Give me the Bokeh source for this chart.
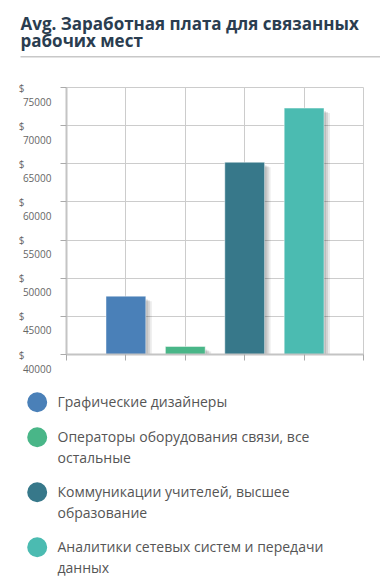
from bokeh.plotting import figure
from bokeh.models import Range1d, FixedTicker, ColumnDataSource, LinearAxis
from bokeh.core.properties import value
from bokeh.embed import file_html
from bokeh.resources import INLINE

# ---- data ----
title_text = "Avg. Заработная плата для связанных\nрабочих мест"
categories = [
    "Графические дизайнеры",
    "Операторы оборудования связи, все\nостальные",
    "Коммуникации учителей, высшее\nобразование",
    "Аналитики сетевых систем и передачи\nданных",
]
salaries = [47650, 41050, 65200, 72300]
colors = ["#4a80b8", "#49b688", "#37788a", "#4bbbb1"]
y_ticks = [40000, 45000, 50000, 55000, 60000, 65000, 70000, 75000]
y_tick_numbers = [str(v) for v in y_ticks]
y_tick_prefix = ["$"] * len(y_ticks)

FONT = "Open Sans"
W = 380

# ---- title figure ----
TH = 60
pt = figure(width=W, height=TH, x_range=Range1d(0, W), y_range=Range1d(TH, 0),
            output_backend="svg", toolbar_location=None,
            x_axis_location=None, y_axis_location=None, min_border=0)
pt.grid.visible = False
pt.outline_line_color = None
pt.text(x=[20], y=[11.5], text=[title_text], text_font=value(FONT), text_font_size="17px",
        text_font_style="bold", text_color="#2a3d50", text_baseline="top", text_align="left",
        text_line_height=0.73)
pt.line(x=[20, W], y=[56.2, 56.2], line_color="#c8c8c8", line_width=1.6)

# ---- chart figure ----
n = len(salaries)
xs = [i + 1 for i in range(n)]
p = figure(width=W, height=318, x_range=Range1d(0, n + 1), y_range=Range1d(y_ticks[0], y_ticks[-1]),
           output_backend="svg", toolbar_location=None,
           min_border_left=66, min_border_right=17, min_border_top=27, min_border_bottom=24)
p.outline_line_color = "#cccccc"
p.xaxis.ticker = FixedTicker(ticks=list(range(0, n + 2)))
p.yaxis.ticker = FixedTicker(ticks=y_ticks)
p.xaxis.major_label_overrides = {i: "" for i in range(0, n + 2)}
p.yaxis.major_label_overrides = {v: "\n\n" + t for v, t in zip(y_ticks, y_tick_numbers)}
for ax in (p.xaxis, p.yaxis):
    ax.axis_line_color = "#c4c4c4"
    ax.axis_line_width = 2
    ax.major_tick_line_color = "#aaaaaa"
    ax.major_tick_in = 0
    ax.major_tick_out = 6
    ax.minor_tick_line_color = None
p.xaxis.major_label_standoff = 0
p.yaxis.major_label_standoff = 9
label_style = dict(major_label_text_font=FONT, major_label_text_font_size="10px",
                   major_label_text_color="#666666", major_label_text_line_height=1.0)
for k, v in label_style.items():
    setattr(p.yaxis[0], k, v)

ax_d = LinearAxis(ticker=FixedTicker(ticks=y_ticks),
                  major_label_overrides=dict(zip(y_ticks, y_tick_prefix)),
                  axis_line_color=None, major_tick_line_color=None, minor_tick_line_color=None,
                  major_tick_in=0, major_tick_out=0, minor_tick_in=0, minor_tick_out=0,
                  major_label_standoff=-5, **label_style)
p.add_layout(ax_d, "left")

p.xgrid.ticker = FixedTicker(ticks=list(range(0, n + 2)))
p.ygrid.ticker = FixedTicker(ticks=y_ticks)
p.grid.grid_line_color = "#cccccc"
p.grid.grid_line_width = 1

px_x = (n + 1) / 297.0
px_y = (y_ticks[-1] - y_ticks[0]) / 267.0
bw = 0.67
for dx, dy, a in [(2, 3, 0.10), (4, 4, 0.10), (6, 5, 0.08)]:
    p.vbar(x=[x + dx * px_x for x in xs], top=[s - dy * px_y for s in salaries],
           bottom=y_ticks[0], width=bw, fill_color="#000000", fill_alpha=a, line_color=None)
p.vbar(x=xs, top=salaries, bottom=y_ticks[0], width=bw, fill_color=colors,
       line_color="#ffffff", line_alpha=0.45, line_width=1)

# ---- legend figure ----
LH = 205
pl = figure(width=W, height=LH, x_range=Range1d(0, W), y_range=Range1d(LH, 0),
            output_backend="svg", toolbar_location=None,
            x_axis_location=None, y_axis_location=None, min_border=0)
pl.grid.visible = False
pl.outline_line_color = None
ys = []
cur = 23.7
for c in categories:
    ys.append(cur)
    cur += 35 + 20 * c.count("\n")
src = ColumnDataSource(dict(x=[36.7] * n, tx=[57] * n, y=ys, ty=[y - 10 for y in ys],
                            label=categories, color=colors))
pl.scatter(x="x", y="y", size=20, fill_color="color", line_color=None, source=src)
pl.text(x="tx", y="ty", text="label", source=src, text_font=value(FONT), text_font_size="14px",
        text_color="#555555", text_baseline="top", text_align="left", text_line_height=1.12)

open("out.html", "w").write(file_html([pt, p, pl], INLINE))
